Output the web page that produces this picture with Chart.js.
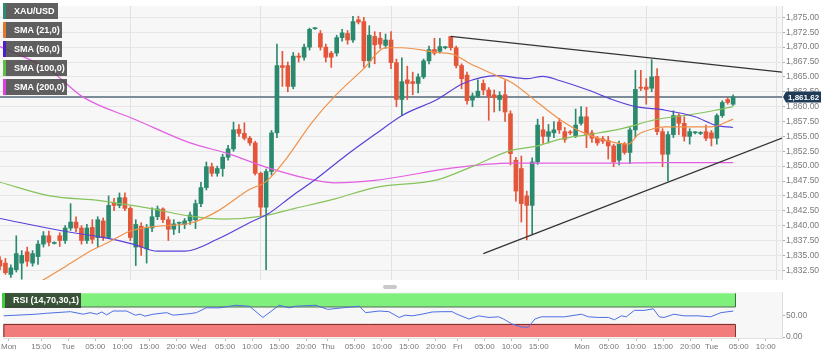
<!DOCTYPE html>
<html><head><meta charset="utf-8">
<script src="https://cdn.jsdelivr.net/npm/chart.js@4.4.1/dist/chart.umd.min.js"></script>
<style>
html,body{margin:0;padding:0;background:#fff;width:831px;height:356px;overflow:hidden;font-family:"Liberation Sans",Arial,sans-serif}
#wrap{position:relative;width:831px;height:356px}
#main{position:absolute;left:0;top:0}
#rsi{position:absolute;left:0;top:286px}
.lg{position:absolute;left:3px;height:16px;background:rgba(70,70,70,0.86);color:#fff;font-size:9px;font-weight:bold;line-height:16px;padding-left:8px;box-sizing:border-box;border-left:3px solid;white-space:nowrap}
#scroll{position:absolute;left:383px;top:285px;width:14px;height:4px;background:#c9c9c9;border-radius:2px}
#rsilab{position:absolute;left:2px;top:293px;width:79px;height:15px;background:rgba(45,55,45,0.85);color:#fff;font-size:9px;font-weight:bold;line-height:15px;padding-left:8px;box-sizing:border-box;border-left:3px solid #3fd03f;white-space:nowrap}
</style></head>
<body><div id="wrap">
<canvas id="main" width="831" height="286"></canvas>
<canvas id="rsi" width="831" height="70"></canvas>
<div class="lg" style="top:3px;width:55px;border-left-color:#2f8a74">XAU/USD</div>
<div class="lg" style="top:22px;width:59px;border-left-color:#e8772e">SMA (21,0)</div>
<div class="lg" style="top:41px;width:59px;border-left-color:#4a1fd0">SMA (50,0)</div>
<div class="lg" style="top:60px;width:64px;border-left-color:#5fbf3f">SMA (100,0)</div>
<div class="lg" style="top:79px;width:64px;border-left-color:#e03ee0">SMA (200,0)</div>
<div id="scroll"></div>
<div id="rsilab">RSI (14,70,30,1)</div>
</div>
<script>
// ---- data (hourly candles, index 0..135) ----
const opens = [1834.2,1833.7,1831.8,1832.6,1833.7,1835.6,1833.7,1834.8,1836.9,1838.3,1837.0,1838.3,1837.5,1839.6,1840.6,1839.6,1837.5,1839.7,1838.0,1840.8,
1838.0,1843.8,1843.4,1844.7,1842.9,1836.4,1839.9,1836.1,1839.6,1841.5,1842.8,1841.0,1839.4,1840.4,1840.2,1840.8,1841.0,1843.7,1846.4,1849.9,
1848.8,1849.6,1851.5,1852.9,1856.2,1855.5,1854.7,1853.9,1848.8,1843.1,1849.1,1855.6,1866.9,1866.9,1863.4,1868.5,1868.3,1870.0,1873.1,1872.3,
1870.0,1869.0,1869.0,1871.6,1872.3,1871.2,1874.6,1874.3,1867.7,1871.8,1871.5,1870.3,1871.2,1867.4,1861.2,1864.5,1864.2,1863.9,1865.0,1867.7,
1869.6,1869.3,1869.9,1871.8,1869.9,1866.9,1865.3,1861.1,1861.7,1863.9,1862.8,1862.0,1861.2,1862.0,1858.8,1851.0,1849.6,1845.0,1843.4,1850.7,
1856.1,1855.0,1855.6,1857.4,1855.8,1855.7,1855.0,1857.2,1858.3,1855.6,1854.7,1854.6,1854.3,1853.4,1851.0,1853.7,1852.3,1856.1,1863.2,1863.3,
1863.1,1865.1,1855.8,1852.0,1855.3,1858.5,1857.2,1855.0,1855.6,1855.5,1855.8,1855.6,1854.7,1858.5,1861.2,1860.4];
const highs = [1834.8,1834.5,1833.4,1838.3,1835.8,1836.4,1835.8,1837.5,1839.0,1839.1,1837.3,1838.8,1840.0,1843.7,1841.5,1840.0,1840.2,1841.0,1841.5,1841.3,
1845.0,1844.6,1845.5,1845.5,1843.2,1841.0,1840.5,1840.2,1843.0,1843.3,1843.0,1841.5,1841.0,1840.6,1841.2,1842.3,1844.3,1847.3,1850.7,1850.5,
1850.0,1852.0,1853.5,1857.4,1857.0,1857.3,1855.0,1854.2,1849.0,1849.5,1856.0,1870.5,1869.3,1867.5,1869.1,1869.0,1870.5,1873.2,1873.3,1872.8,
1870.5,1869.3,1872.0,1873.0,1872.8,1875.2,1875.2,1875.0,1873.6,1872.6,1872.5,1872.2,1872.6,1868.0,1868.2,1866.8,1865.8,1865.5,1868.0,1870.2,
1871.5,1871.5,1870.1,1871.8,1870.2,1867.2,1865.8,1862.3,1864.5,1864.5,1863.2,1862.8,1862.5,1864.4,1859.3,1851.5,1851.7,1845.8,1851.4,1857.9,
1858.3,1857.0,1857.5,1858.0,1856.5,1856.0,1859.6,1860.0,1859.9,1856.0,1855.0,1855.0,1855.0,1853.7,1854.2,1854.0,1856.5,1866.1,1866.1,1864.7,
1867.9,1866.4,1856.3,1855.8,1859.3,1858.8,1858.3,1856.3,1855.8,1855.8,1856.9,1856.0,1858.8,1861.0,1861.5,1862.0];
const lows = [1832.6,1831.8,1831.3,1832.2,1831.0,1833.2,1833.2,1833.5,1836.4,1836.6,1836.9,1836.5,1837.0,1839.2,1839.0,1836.9,1837.0,1837.0,1836.4,1837.5,
1837.8,1842.5,1843.0,1842.5,1837.5,1833.3,1835.0,1833.7,1839.0,1841.0,1840.5,1837.5,1838.5,1838.8,1839.5,1840.2,1839.5,1843.2,1846.0,1848.3,
1848.3,1848.3,1851.0,1852.5,1855.0,1854.4,1853.5,1848.5,1841.6,1832.6,1848.5,1854.8,1863.4,1862.5,1863.0,1867.5,1867.8,1869.5,1873.0,1869.5,
1867.5,1866.6,1868.5,1871.0,1870.5,1870.8,1873.9,1866.6,1866.6,1867.2,1869.8,1869.8,1866.4,1860.0,1858.5,1861.2,1862.0,1862.3,1864.7,1867.2,
1868.7,1869.0,1869.7,1869.5,1866.5,1863.0,1860.4,1860.0,1861.5,1862.0,1857.7,1859.1,1859.3,1857.5,1850.2,1844.1,1840.6,1837.6,1838.5,1850.3,
1853.8,1853.9,1854.8,1855.5,1854.0,1855.3,1854.8,1856.9,1853.1,1854.0,1853.5,1853.8,1851.2,1849.9,1850.2,1852.0,1850.4,1854.8,1862.7,1860.4,
1862.5,1855.3,1849.9,1847.5,1854.8,1855.3,1854.2,1853.7,1855.4,1855.3,1854.3,1853.4,1853.7,1858.2,1860.4,1860.2];
const closes = [1833.2,1832.1,1832.9,1835.3,1835.0,1834.0,1835.3,1836.9,1838.3,1837.2,1837.1,1837.5,1839.6,1840.6,1839.6,1837.5,1839.6,1837.7,1841.0,1838.0,
1843.4,1843.4,1844.7,1842.9,1838.0,1840.2,1836.4,1839.6,1841.5,1842.8,1841.0,1839.4,1840.3,1840.4,1840.8,1841.8,1843.7,1846.4,1849.9,1848.8,
1849.6,1851.5,1852.9,1856.1,1855.5,1854.7,1853.9,1848.8,1843.1,1849.1,1855.6,1866.9,1866.6,1863.4,1868.5,1868.3,1870.0,1873.0,1873.2,1870.0,
1868.3,1868.3,1871.6,1872.4,1871.2,1874.3,1874.2,1867.7,1872.0,1870.4,1870.5,1871.2,1867.4,1861.2,1864.2,1863.9,1863.9,1865.0,1867.7,1869.6,
1869.0,1870.1,1869.9,1869.9,1866.9,1864.7,1861.0,1861.8,1862.6,1862.8,1861.7,1861.5,1861.9,1859.1,1852.1,1845.8,1843.7,1843.4,1850.7,1856.9,
1855.0,1855.8,1856.1,1856.1,1854.5,1855.6,1856.9,1858.3,1855.3,1854.7,1853.9,1854.2,1853.4,1850.7,1853.7,1852.3,1856.1,1862.9,1863.1,1862.9,
1865.0,1855.8,1852.0,1855.3,1858.5,1857.2,1855.0,1855.8,1855.6,1855.6,1854.7,1854.7,1858.5,1860.7,1860.7,1861.62];

// moving averages: [candle index, value]
const sma21 = [[6,1829.8],[12,1833.1],[17,1835.9],[20,1837.2],[24,1839.1],[29,1839.9],[35,1840.4],[40,1842.4],[46,1846.1],[49,1847.4],[52.5,1851.0],[57.5,1857.4],[61.7,1861.8],[67,1866.4],[71,1869.9],[74,1869.9],[80.5,1869.1],[83.4,1868.8],[86.6,1867.2],[91.5,1865.2],[94.5,1863.9],[99,1860.7],[103,1857.9],[107,1855.8],[112,1854.2],[115.7,1853.7],[117.5,1855.3],[120,1856.2],[122.5,1856.6],[126.7,1856.6],[131,1856.6],[135,1857.9]];
const sma50 = [[0,1841.2],[11.6,1839.1],[18.4,1838.1],[24.5,1836.9],[29,1835.7],[34,1835.7],[40,1837.7],[46.4,1840.7],[49.4,1842.0],[53.8,1845.0],[58,1847.7],[63,1851.3],[69,1855.3],[74.2,1858.6],[80.5,1861.2],[85.3,1863.9],[91.5,1865.2],[97,1864.7],[100,1865.1],[103,1864.4],[108.3,1862.8],[112.7,1861.2],[117,1860.0],[122.5,1859.4],[128,1858.3],[131.7,1856.9],[135,1856.5]];
const sma100 = [[0,1847.3],[9.2,1845.0],[18.4,1844.2],[27.6,1842.9],[35,1841.6],[41.4,1841.1],[48.3,1841.6],[54.3,1842.9],[61.7,1844.5],[69,1846.4],[80.5,1847.7],[86.6,1849.8],[94,1852.6],[99,1853.4],[103,1854.5],[108.3,1855.3],[114.5,1856.3],[120.6,1857.8],[126.7,1858.6],[131.7,1859.4],[135,1860.0]];
const sma200 = [[0,1870.1],[9.2,1866.1],[15.3,1861.6],[25,1857.8],[35,1853.9],[42,1852.1],[49.4,1849.7],[57.6,1847.7],[61.7,1847.2],[69,1847.6],[83.4,1849.7],[94,1850.5],[103,1850.5],[113.3,1850.5],[120.6,1850.6],[135,1850.6]];
const upperTrend = [[83,1871.8],[144,1865.8]];
const lowerTrend = [[89,1835.3],[144,1854.7]];
const rsi = [[0,48.5],[6,52.2],[8,54.4],[12.4,58],[14.8,52.2],[16,55.8],[17.3,52.2],[18.2,57.3],[19.1,50.7],[20.3,59.5],[22.8,59.5],[24.4,50],[25.3,52.2],[26.2,47.8],[27.7,52.2],[30.2,55.8],[31.4,50],[34.5,53.5],[35.7,55.8],[37.5,66.8],[40,66.8],[43,72.7],[45.5,70.5],[48,44.8],[51,72.7],[52.9,66.8],[54,70.5],[57.8,72.7],[60,63.2],[62.7,66.8],[65.8,70.5],[67,55.8],[69.5,59.5],[71.3,58],[73.2,44.8],[74.3,50],[75.6,48.5],[77.4,52.2],[79.3,57.3],[81.1,58],[83,58],[83.9,52.2],[86.1,41.2],[87.9,48.5],[89.8,44.8],[91.6,46.3],[92.5,41.2],[94,30.2],[95.9,22.7],[97.1,22.7],[98.3,41.2],[99.5,46.3],[103.8,46.3],[106.9,52.2],[108.2,46.3],[110,44.8],[111.9,44.8],[113,39.6],[114.3,48.5],[115.2,46.3],[116.7,61],[118.5,61],[120.2,64.6],[121.3,46.3],[122.2,44.8],[124,52.2],[125.9,48.5],[128.5,48.5],[130.8,46.3],[132.7,55.8],[135,59.5]];
const rsiUpper = 70, rsiLower = 30;
const priceTicks = [1832.5,1835,1837.5,1840,1842.5,1845,1847.5,1850,1852.5,1855,1857.5,1860,1862.5,1865,1867.5,1870,1872.5,1875];
const rsiTicks = [0,50];
const timeTickIdx = [1,7,12,17,22,27,32,36,41,46,51,56,60,65,70,75,80,84,89,94,99,107,112,117,122,127,131,136,141];
const timeTickLabels = ["Mon","15:00","Tue","05:00","10:00","15:00","20:00","Wed","05:00","10:00","15:00","20:00","Thu","05:00","10:00","15:00","20:00","Fri","05:00","10:00","15:00","Mon","05:00","10:00","15:00","20:00","Tue","05:00","10:00"];
const dayIdx = [12,36,60,84,107,131];

// ---- build ----
const GREEN = '#2b8a6e', RED = '#e4563a';
const candleColors = closes.map((c,i)=> c>=opens[i] ? GREEN : RED);
const wickData = highs.map((h,i)=>({x:i, y:[lows[i],h]}));
const bodyData = opens.map((o,i)=>({x:i, y:[o,closes[i]]}));
const toXY = a => a.map(p=>({x:p[0], y:p[1]}));
const lastClose = closes[closes.length-1];
const X_MIN = 0, X_MAX = 144;
const fmt = v => v.toLocaleString('en-US',{minimumFractionDigits:2, maximumFractionDigits:2});
const FONT = "'Liberation Sans', Arial, sans-serif";

const bgPlugin = {
  id:'bg',
  beforeDraw(chart){
    const {ctx, chartArea:a} = chart;
    ctx.save(); ctx.fillStyle = '#f7f7f7';
    ctx.fillRect(a.left, a.top, a.right-a.left, a.bottom-a.top);
    ctx.restore();
  }
};
const priceTag = {
  id:'priceTag',
  afterDraw(chart){
    const {ctx, chartArea:a, scales} = chart;
    const y = scales.y.getPixelForValue(lastClose);
    ctx.save();
    ctx.fillStyle = '#1f3b57';
    ctx.beginPath();
    ctx.moveTo(a.right+1, y);
    ctx.lineTo(a.right+4, y-5.5);
    ctx.lineTo(a.right+39, y-5.5);
    ctx.lineTo(a.right+39, y+5.5);
    ctx.lineTo(a.right+4, y+5.5);
    ctx.closePath(); ctx.fill();
    ctx.fillStyle = '#fff';
    ctx.font = "bold 8px " + FONT;
    ctx.textBaseline = 'middle'; ctx.textAlign = 'left';
    ctx.fillText(fmt(lastClose), a.right+6, y+0.5);
    ctx.restore();
  }
};

new Chart(document.getElementById('main'), {
  type:'bar',
  data:{datasets:[
    {type:'line', data:toXY([[X_MIN,lastClose],[X_MAX,lastClose]]), borderColor:'#7d8c99', borderWidth:2, pointRadius:0, order:10},
    {type:'bar', data:wickData, backgroundColor:candleColors, barThickness:1, grouped:false, order:6},
    {type:'bar', data:bodyData, backgroundColor:candleColors, barThickness:4, minBarLength:1, grouped:false, order:5},
    {type:'line', data:toXY(sma200), borderColor:'#e35ee3', borderWidth:1.2, pointRadius:0, cubicInterpolationMode:'monotone', order:4},
    {type:'line', data:toXY(sma100), borderColor:'#86c35a', borderWidth:1.2, pointRadius:0, cubicInterpolationMode:'monotone', order:3},
    {type:'line', data:toXY(sma50), borderColor:'#5a3fd8', borderWidth:1.2, pointRadius:0, cubicInterpolationMode:'monotone', order:2},
    {type:'line', data:toXY(sma21), borderColor:'#f0914a', borderWidth:1.2, pointRadius:0, cubicInterpolationMode:'monotone', order:1},
    {type:'line', data:toXY(upperTrend), borderColor:'#333', borderWidth:1.2, pointRadius:0, order:0},
    {type:'line', data:toXY(lowerTrend), borderColor:'#333', borderWidth:1.2, pointRadius:0, order:0}
  ]},
  options:{
    responsive:false, animation:false, events:[],
    layout:{padding:{top:0,bottom:2,left:0,right:0}},
    plugins:{legend:{display:false}, tooltip:{enabled:false}},
    scales:{
      x:{type:'linear', min:X_MIN, max:X_MAX, offset:false,
        afterBuildTicks:s=>{s.ticks = dayIdx.map(v=>({value:v}));},
        afterFit:s=>{s.height=0;},
        ticks:{display:false}, grid:{color:'#e2e2e2', drawTicks:false}, border:{display:false}},
      y:{position:'right', min:1830.88, max:1876.9,
        afterBuildTicks:s=>{s.ticks = priceTicks.map(v=>({value:v}));},
        afterFit:s=>{s.width=49;},
        ticks:{callback:v=>fmt(v), color:'#7a7a7a', font:{size:8.5, family:FONT}, padding:1},
        grid:{color:'#e6e6e6', tickLength:3, tickColor:'#aaa'},
        border:{color:'#dcdcdc'}}
    }
  },
  plugins:[bgPlugin, priceTag]
});

const bandPlugin = {
  id:'bands',
  beforeDatasetsDraw(chart){
    const {ctx, chartArea:a, scales:{x,y}} = chart;
    const x0 = a.left, x1 = x.getPixelForValue(closes.length-1+0.3);
    const yTop = y.getPixelForValue(100), y70 = y.getPixelForValue(rsiUpper);
    const y30 = y.getPixelForValue(rsiLower), y0 = y.getPixelForValue(0);
    ctx.save();
    ctx.fillStyle = '#80f07c'; ctx.fillRect(x0, yTop, x1-x0, y70-yTop);
    ctx.strokeStyle = '#2f6e2f'; ctx.lineWidth = 1;
    ctx.beginPath(); ctx.moveTo(x0, y70+0.5); ctx.lineTo(x1+0.5, y70+0.5); ctx.lineTo(x1+0.5, yTop); ctx.stroke();
    ctx.fillStyle = '#f27b7b'; ctx.fillRect(x0, y30, x1-x0, y0-y30);
    ctx.strokeStyle = '#7a2a2a';
    ctx.beginPath(); ctx.moveTo(x0+0.5, y0); ctx.lineTo(x0+0.5, y30+0.5); ctx.lineTo(x1+0.5, y30+0.5); ctx.lineTo(x1+0.5, y0); ctx.stroke();
    ctx.restore();
  }
};

new Chart(document.getElementById('rsi'), {
  type:'line',
  data:{datasets:[{data:toXY(rsi), borderColor:'#4d6fe3', borderWidth:1, pointRadius:0}]},
  options:{
    responsive:false, animation:false, events:[],
    layout:{padding:{top:4,bottom:0,left:0,right:0}},
    plugins:{legend:{display:false}, tooltip:{enabled:false}},
    scales:{
      x:{type:'linear', min:X_MIN, max:X_MAX, offset:false,
        afterBuildTicks:s=>{s.ticks = timeTickIdx.map(v=>({value:v}));},
        afterFit:s=>{s.height=18;},
        ticks:{autoSkip:false, maxRotation:0, padding:1, color:'#777', font:{size:8, family:FONT},
          callback:(v)=>{const k = timeTickIdx.indexOf(v); return k>=0 ? timeTickLabels[k] : '';}},
        grid:{drawOnChartArea:false, tickLength:3, tickColor:'#bbb'}, border:{color:'#e0e0e0'}},
      y:{position:'right', min:-2.2, max:102.8,
        afterBuildTicks:s=>{s.ticks = rsiTicks.map(v=>({value:v}));},
        afterFit:s=>{s.width=49;},
        ticks:{callback:v=>fmt(v), color:'#7a7a7a', font:{size:8.5, family:FONT}, padding:1},
        grid:{drawOnChartArea:false, tickLength:3, tickColor:'#aaa'},
        border:{color:'#dcdcdc'}}
    }
  },
  plugins:[bgPlugin, bandPlugin]
});
</script>
</body></html>
